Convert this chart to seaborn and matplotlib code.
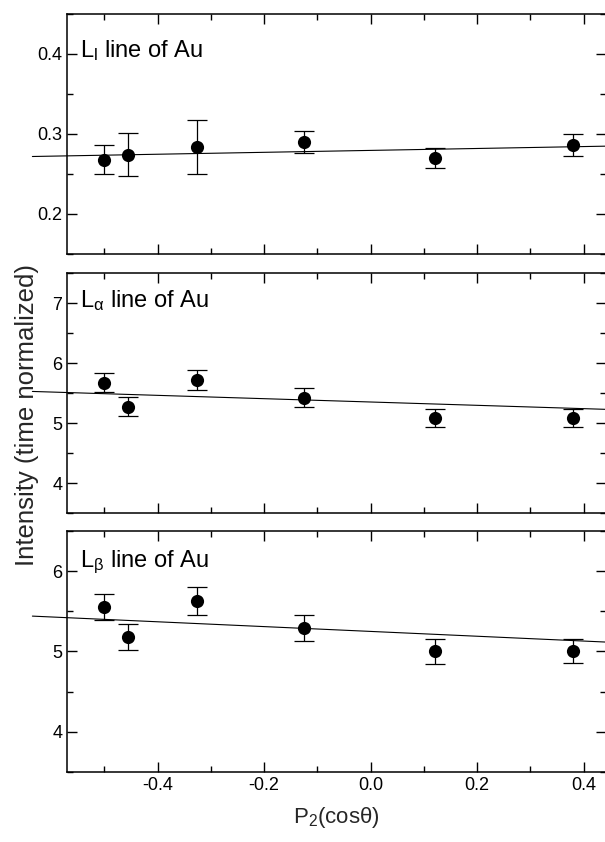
import matplotlib
matplotlib.use("Agg")
import matplotlib.pyplot as plt
import seaborn as sns
import numpy as np
import pandas as pd
from matplotlib.ticker import MultipleLocator

# ---- data ----
p2_values = [-0.5, -0.455, -0.325, -0.125, 0.120, 0.380]

ll_intensity = [0.268, 0.274, 0.284, 0.290, 0.270, 0.286]
ll_error = [0.018, 0.027, 0.034, 0.014, 0.013, 0.014]

la_intensity = [5.67, 5.27, 5.72, 5.42, 5.08, 5.08]
la_error = [0.16, 0.16, 0.17, 0.16, 0.15, 0.15]

lb_intensity = [5.55, 5.18, 5.63, 5.29, 5.00, 5.01]
lb_error = [0.16, 0.16, 0.17, 0.16, 0.15, 0.15]

# fitted line parameters (intercept, slope)
ll_fit = [0.2795, 0.012]
la_fit = [5.35, -0.277]
lb_fit = [5.25, -0.30]

panel_labels = ["L$_\\mathrm{l}$ line of Au", "L$_\\mathrm{α}$ line of Au", "L$_\\mathrm{β}$ line of Au"]
ylims = [(0.15, 0.45), (3.5, 7.5), (3.5, 6.5)]
ymajor = [0.1, 1, 1]
xlim = (-0.57, 0.442)
fit_x_span = [-0.635, 0.47]

sns.set_theme(style="ticks")
plt.rcParams["font.family"] = ["Liberation Sans", "DejaVu Sans"]
plt.rcParams["mathtext.fontset"] = "custom"
plt.rcParams["mathtext.rm"] = "Liberation Sans"
plt.rcParams["mathtext.it"] = "Liberation Sans:italic"

fig = plt.figure(figsize=(6.05, 8.42), dpi=100)
W, H = 605.0, 842.0
left_px, right_px = 67, 606
panels_px = [(14, 254), (273, 513), (531, 772)]

series = [(ll_intensity, ll_error, ll_fit), (la_intensity, la_error, la_fit), (lb_intensity, lb_error, lb_fit)]
label_base = [0.821, 0.858, 0.851]

axes = []
for i, ((top, bot), (yv, ev, fit)) in enumerate(zip(panels_px, series)):
    ax = fig.add_axes([left_px / W, 1 - bot / H, (right_px - left_px) / W, (bot - top) / H])
    axes.append(ax)
    df = pd.DataFrame({"P2": p2_values, "I": yv, "err": ev})
    ax.errorbar(df["P2"], df["I"], yerr=df["err"], fmt="none", ecolor="black",
                elinewidth=0.9, capsize=7, capthick=0.9, zorder=2)
    sns.scatterplot(data=df, x="P2", y="I", ax=ax, color="black", s=90,
                    edgecolor="black", linewidth=0, zorder=3, legend=False)
    fx = np.array(fit_x_span)
    ax.plot(fx, fit[0] + fit[1] * fx, color="black", lw=0.8, clip_on=False, zorder=1)
    ax.set_xlim(*xlim)
    ax.set_ylim(*ylims[i])
    ax.yaxis.set_major_locator(MultipleLocator(ymajor[i]))
    ax.yaxis.set_minor_locator(MultipleLocator(ymajor[i] / 2))
    ax.xaxis.set_major_locator(MultipleLocator(0.2))
    ax.xaxis.set_minor_locator(MultipleLocator(0.1))
    ax.tick_params(which="both", direction="in", top=True, right=True, width=1.0,
                   labelsize=13, colors="black")
    ax.tick_params(which="major", length=7)
    ax.tick_params(which="minor", length=4)
    for s in ax.spines.values():
        s.set_linewidth(1.1)
        s.set_color("black")
    ax.set_xlabel("")
    ax.set_ylabel("")
    ax.text(0.024, label_base[i], panel_labels[i], transform=ax.transAxes,
            fontsize=17, va="baseline", ha="left", color="black")
    if i < 2:
        ax.tick_params(axis="x", labelbottom=False)
    else:
        ax.set_xticks([-0.4, -0.2, 0.0, 0.2, 0.4])
        ax.set_xticklabels(["-0.4", "-0.2", "0.0", "0.2", "0.4"])
        ax.set_xlim(*xlim)

axes[0].set_yticks([0.2, 0.3, 0.4])
axes[0].set_yticklabels(["0.2", "0.3", "0.4"])
axes[0].set_ylim(*ylims[0])
axes[1].set_yticks([4, 5, 6, 7])
axes[1].set_ylim(*ylims[1])
axes[2].set_yticks([4, 5, 6])
axes[2].set_ylim(*ylims[2])

axes[2].set_xlabel("P$_\\mathrm{2}$(cosθ)", fontsize=16, labelpad=8)
fig.text(27 / W, 1 - 415 / H, "Intensity (time normalized)", rotation=90,
         fontsize=18.5, ha="center", va="center")

fig.savefig("out.png", dpi=100)
